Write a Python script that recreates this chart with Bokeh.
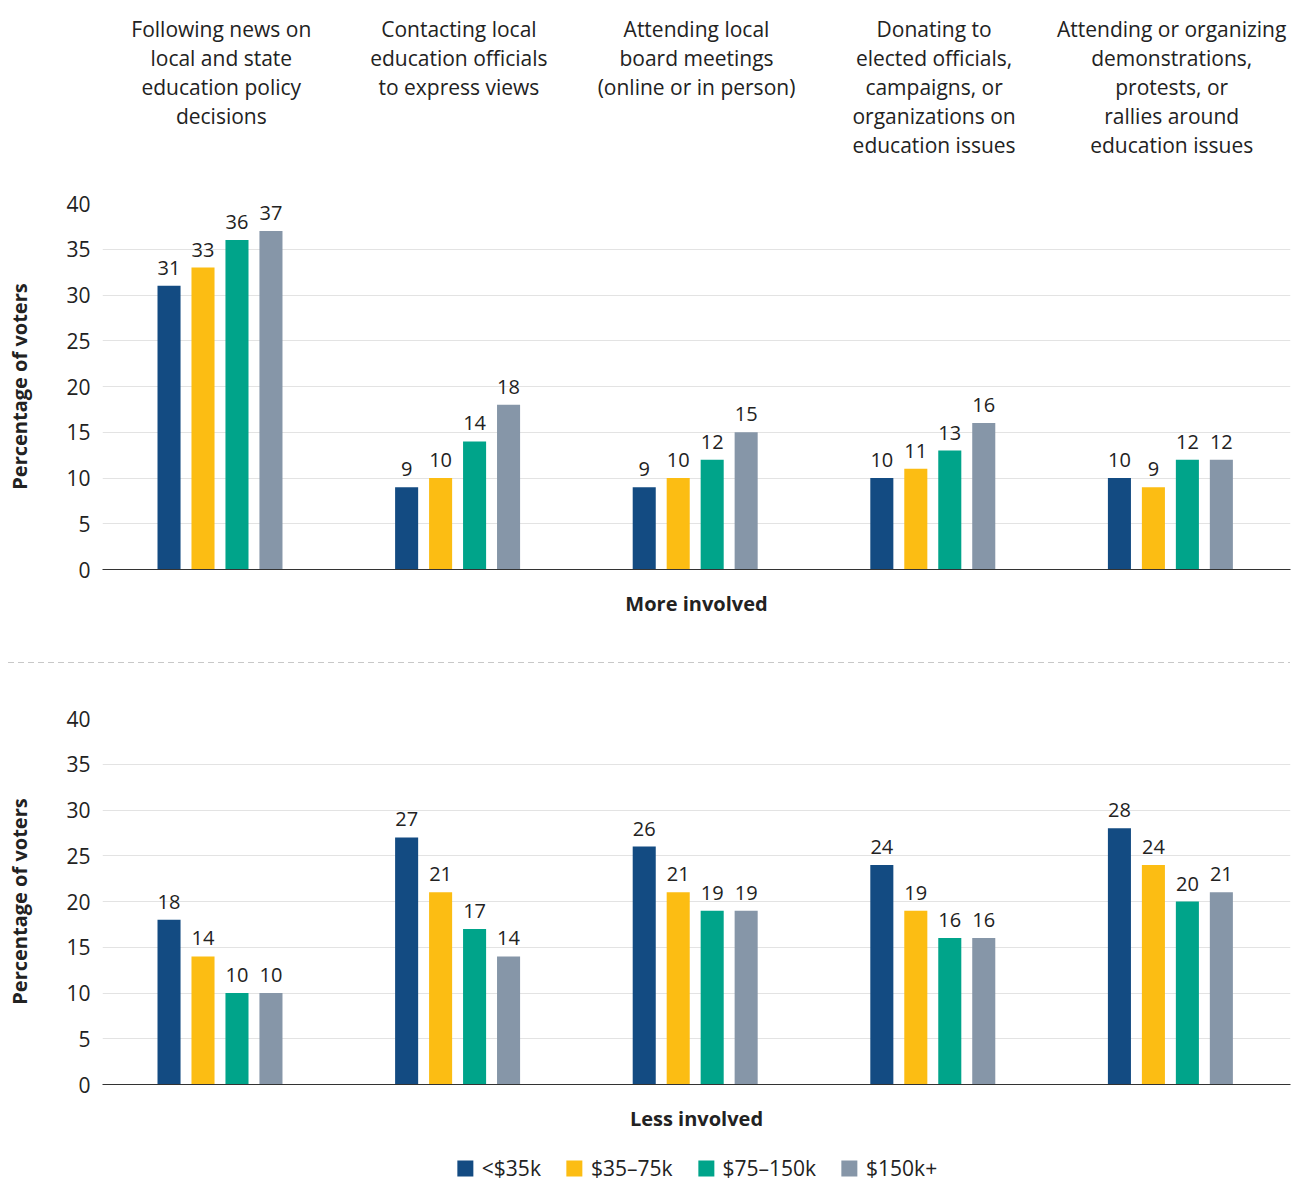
from bokeh.plotting import figure
from bokeh.layouts import column
from bokeh.models import (ColumnDataSource, Range1d, FixedTicker,
                          Legend, LegendItem, Div)
from bokeh.transform import dodge
from bokeh.core.properties import value
from bokeh.embed import file_html
from bokeh.resources import INLINE

categories = ["follow", "contact", "board", "donate", "protest"]
headers = [
    "Following news on\nlocal and state\neducation policy\ndecisions",
    "Contacting local\neducation officials\nto express views",
    "Attending local\nboard meetings\n(online or in person)",
    "Donating to\nelected officials,\ncampaigns, or\norganizations on\neducation issues",
    "Attending or organizing\ndemonstrations,\nprotests, or\nrallies around\neducation issues",
]
series_names = ["<$35k", "$35\u201375k", "$75\u2013150k", "$150k+"]
colors = ["#134b82", "#fcbd13", "#00a48a", "#8696a8"]

more_lt35 = [31, 9, 9, 10, 10]
more_35_75 = [33, 10, 10, 11, 9]
more_75_150 = [36, 14, 12, 13, 12]
more_150p = [37, 18, 15, 16, 12]

less_lt35 = [18, 27, 26, 24, 28]
less_35_75 = [14, 21, 21, 19, 24]
less_75_150 = [10, 17, 19, 16, 20]
less_150p = [10, 14, 19, 16, 21]

y_ticks = [0, 5, 10, 15, 20, 25, 30, 35, 40]

# category slot centres on a linear 0..N axis
cat_pos = [i + 0.5 for i in range(len(categories))]

FONT = "Open Sans"
TXT = "#222222"
offsets = [-0.220, -0.077, 0.066, 0.209]
BAR_W = 0.097

FRAME_W = 1188
LEFT = 102
RIGHT = 2


def base_fig(frame_h, top, bottom, y_range):
    p = figure(x_range=Range1d(0, len(categories)), y_range=y_range,
               frame_width=FRAME_W, frame_height=frame_h,
               min_border_left=LEFT, min_border_right=RIGHT,
               min_border_top=top, min_border_bottom=bottom,
               output_backend="svg", toolbar_location=None,
               outline_line_color=None, background_fill_color="white",
               border_fill_color="white")
    return p


# header figure
fh = base_fig(188, 0, 0, Range1d(188, 0))
fh.axis.visible = False
fh.grid.visible = False
hsrc = ColumnDataSource(dict(x=cat_pos, y=[14] * len(categories), t=headers))
fh.text(x="x", y="y", text="t", source=hsrc, text_align="center",
        text_baseline="top", text_font=value(FONT), text_font_size="21px",
        text_color=TXT, text_line_height=1.04)


def style_panel(p, xlabel):
    p.xgrid.visible = False
    p.ygrid.ticker = FixedTicker(ticks=y_ticks)
    p.ygrid.grid_line_color = "#e3e3e3"
    p.ygrid.grid_line_width = 1
    p.yaxis.ticker = FixedTicker(ticks=y_ticks)
    p.yaxis.axis_line_color = None
    p.yaxis.major_tick_line_color = None
    p.yaxis.major_tick_out = 0
    p.yaxis.minor_tick_line_color = None
    p.yaxis.major_label_standoff = 12
    p.yaxis.major_label_text_font = FONT
    p.yaxis.major_label_text_font_size = "21px"
    p.yaxis.major_label_text_color = TXT
    p.yaxis.axis_label = "Percentage of voters"
    p.yaxis.axis_label_text_font = FONT
    p.yaxis.axis_label_text_font_style = "bold"
    p.yaxis.axis_label_text_font_size = "20px"
    p.yaxis.axis_label_text_color = TXT
    p.yaxis.axis_label_standoff = 30
    p.xaxis.ticker = FixedTicker(ticks=[])
    p.xaxis.axis_line_color = "#333333"
    p.xaxis.axis_line_width = 1.2
    p.xaxis.major_tick_line_color = None
    p.xaxis.major_tick_out = 0
    p.xaxis.minor_tick_line_color = None
    p.xaxis.major_label_standoff = 0
    p.xaxis.axis_label = xlabel
    p.xaxis.axis_label_text_font = FONT
    p.xaxis.axis_label_text_font_style = "bold"
    p.xaxis.axis_label_text_font_size = "20px"
    p.xaxis.axis_label_text_color = TXT
    p.xaxis.axis_label_standoff = 20


def panel(vals, xlabel, top, bottom):
    p = base_fig(366, top, bottom, Range1d(0, 40))
    style_panel(p, xlabel)
    for i, (v, c) in enumerate(zip(vals, colors)):
        src = ColumnDataSource(dict(x=cat_pos, v=v, lab=[str(a) for a in v]))
        p.vbar(x=dodge("x", offsets[i]), top="v", bottom=0,
               width=BAR_W, source=src, fill_color=c, line_color=None)
        p.text(x=dodge("x", offsets[i]), y="v", text="lab",
               source=src, text_align="center", text_baseline="bottom",
               y_offset=-11, text_font=value(FONT), text_font_size="20px",
               text_color=TXT)
    return p


less_vals = [less_lt35, less_35_75, less_75_150, less_150p]
f1 = panel([more_lt35, more_35_75, more_75_150, more_150p], "More involved", 15, 82)

sep = Div(text='<div style="margin-left:8px;margin-top:10px;width:1282px;height:1px;'
               'background:repeating-linear-gradient(to right,#c8c8c8 0px,#c8c8c8 6px,'
               'transparent 6px,transparent 10px)"></div>',
          width=1290, height=20, margin=0)

f2 = panel(less_vals, "Less involved", 47, 60)

# legend strip: hidden copies of the series provide the legend swatches
fl = base_fig(48, 0, 0, Range1d(0, 40))
fl.axis.visible = False
fl.grid.visible = False
leg_renderers = []
for v, c in zip(less_vals, colors):
    r = fl.vbar(x=cat_pos, top=v, width=BAR_W, fill_color=c, line_color=None)
    r.visible = False
    leg_renderers.append(r)
legend = Legend(items=[LegendItem(label=n, renderers=[r])
                       for n, r in zip(series_names, leg_renderers)],
                orientation="horizontal", location="center", click_policy="none",
                label_text_font=FONT, label_text_font_size="21px",
                label_text_color=TXT, glyph_width=20, glyph_height=20,
                label_standoff=7, spacing=23, border_line_color=None,
                background_fill_alpha=0, margin=0, padding=0,
                inactive_fill_alpha=0)
fl.add_layout(legend, "center")

layout = column(fh, f1, sep, f2, fl, spacing=0)
open("out.html", "w").write(file_html(layout, INLINE))
